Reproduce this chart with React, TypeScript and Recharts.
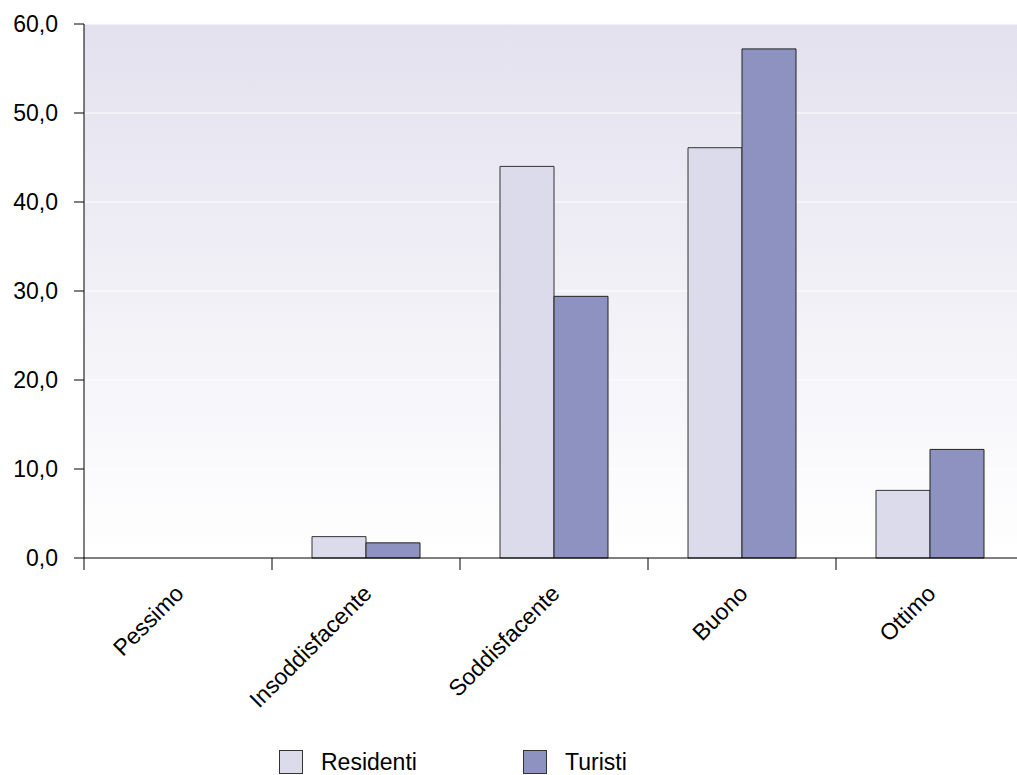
import { BarChart, Bar, XAxis, YAxis, CartesianGrid, Legend } from "recharts";

const categories = ["Pessimo", "Insoddisfacente", "Soddisfacente", "Buono", "Ottimo"];
const residenti = [0, 2.4, 44.0, 46.1, 7.6];
const turisti = [0, 1.7, 29.4, 57.2, 12.2];
const yTicks = [0, 10, 20, 30, 40, 50, 60];

const data = categories.map((name, i) => ({
  name,
  Residenti: residenti[i],
  Turisti: turisti[i],
}));

const CHART_W = 1030;
const CHART_H = 775;
const PLOT_LEFT = 84;
const PLOT_RIGHT = 1024;
const STEP = (PLOT_RIGHT - PLOT_LEFT) / categories.length;
const FONT = "'Liberation Sans', Arial, sans-serif";
const FS = 23;

const XTick = (props: any) => {
  const { x, y, payload, index } = props;
  const tx = x + 7;
  const ty = y + 37;
  return (
    <g>
      <line x1={x - STEP / 2} y1={y} x2={x - STEP / 2} y2={y + 12} stroke="#000" />
      {index === categories.length - 1 && (
        <line x1={x + STEP / 2} y1={y} x2={x + STEP / 2} y2={y + 12} stroke="#000" />
      )}
      <text
        x={tx}
        y={ty}
        transform={`rotate(-45 ${tx} ${ty})`}
        textAnchor="end"
        fontSize={FS}
        fontFamily={FONT}
        fill="#000"
      >
        {payload.value}
      </text>
    </g>
  );
};

const LegendContent = (props: any) => {
  const { payload } = props;
  return (
    <div style={{ position: "relative", height: 37, fontFamily: FONT }}>
      {payload.map((p: any, i: number) => (
        <div
          key={p.value}
          style={{ position: "absolute", left: 279 + i * 244, top: 12, display: "flex", alignItems: "center" }}
        >
          <span
            style={{
              display: "inline-block",
              width: 22,
              height: 22,
              background: p.color,
              border: "1px solid #333",
              marginRight: 18,
            }}
          />
          <span style={{ fontSize: FS, color: "#000", lineHeight: "24px" }}>{p.value}</span>
        </div>
      ))}
    </div>
  );
};

export default function App() {
  return (
    <div style={{ position: "absolute", left: 0, top: 0, width: 1017, height: 775, overflow: "hidden", background: "#fff" }}>
      <BarChart
        width={CHART_W}
        height={CHART_H}
        data={data}
        margin={{ top: 24, right: CHART_W - PLOT_RIGHT, bottom: 0, left: 0 }}
        barCategoryGap={40}
        barGap={0}
      >
        <defs>
          <linearGradient id="bgGrad" x1="0" y1="0" x2="0" y2="1">
            <stop offset="0%" stopColor="#e3e1ee" />
            <stop offset="100%" stopColor="#ffffff" />
          </linearGradient>
        </defs>
        <CartesianGrid vertical={false} stroke="#ffffff" fill="url(#bgGrad)" />
        <XAxis
          dataKey="name"
          height={180}
          tickLine={false}
          tickSize={0}
          tickMargin={0}
          axisLine={{ stroke: "#000" }}
          tick={<XTick />}
          interval={0}
        />
        <YAxis
          width={PLOT_LEFT}
          domain={[0, 60]}
          ticks={yTicks}
          tickFormatter={(v: number) => v.toFixed(1).replace(".", ",")}
          axisLine={{ stroke: "#000" }}
          tickLine={{ stroke: "#000" }}
          tickSize={10}
          tickMargin={16}
          tick={{ fontSize: FS, fontFamily: FONT, fill: "#000" }}
        />
        <Legend verticalAlign="bottom" content={<LegendContent />} wrapperStyle={{ height: 37, left: 0, width: CHART_W }} />
        <Bar dataKey="Residenti" fill="#dcdbeb" stroke="#333" strokeWidth={1} isAnimationActive={false} />
        <Bar dataKey="Turisti" fill="#8e92c0" stroke="#222" strokeWidth={1} isAnimationActive={false} />
      </BarChart>
    </div>
  );
}
